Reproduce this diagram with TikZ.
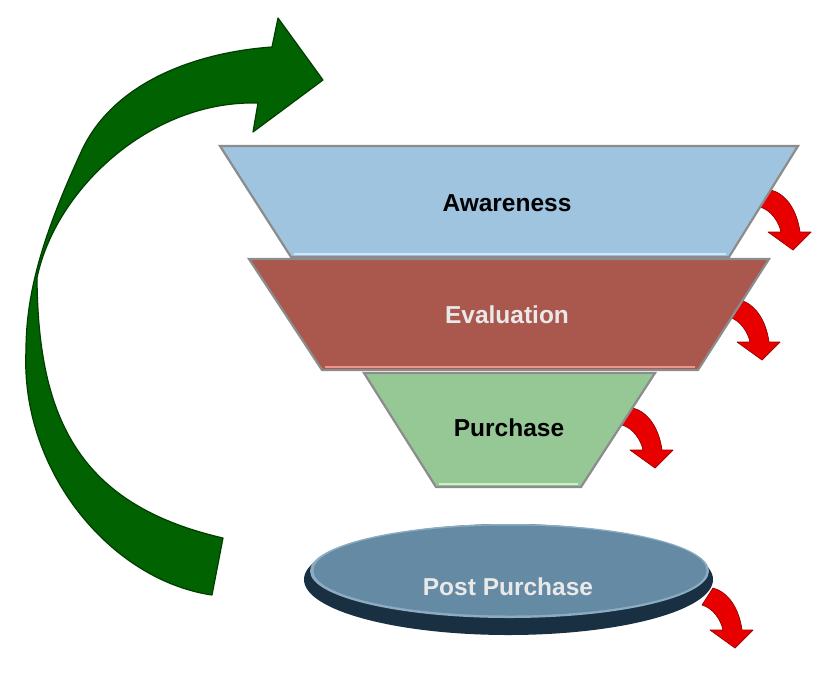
\documentclass[tikz,border=0pt]{standalone}
\usepackage{fontspec}
\setmainfont{Liberation Sans}
\definecolor{awblue}{RGB}{159,196,223}
\definecolor{awlight}{RGB}{205,232,248}
\definecolor{evred}{RGB}{170,87,78}
\definecolor{evlight}{RGB}{236,150,140}
\definecolor{pugreen}{RGB}{150,200,150}
\definecolor{pulight}{RGB}{205,238,205}
\definecolor{framegray}{RGB}{140,140,140}
\definecolor{ellfill}{RGB}{101,138,163}
\definecolor{ellrim}{RGB}{24,48,66}
\definecolor{ellhi}{RGB}{140,172,194}
\definecolor{arrgreen}{RGB}{0,98,0}
\definecolor{arrgreendark}{RGB}{0,62,0}
\definecolor{arrred}{RGB}{232,0,0}
\definecolor{arrreddark}{RGB}{150,0,0}
\definecolor{lighttext}{RGB}{233,233,233}
\tikzset{
  stagelabel/.style={font=\fontsize{24.5}{29}\selectfont\bfseries, inner sep=0pt},
  stageframe/.style={draw=framegray, line width=2.2, line join=miter},
  redarrow/.pic={
    \path[fill=arrred, draw=arrreddark, line width=0.7, line join=round]
      (0,0) .. controls (15,4) and (26,20) .. (29,42) -- (40,42) -- (22,60) -- (-3,42) -- (10,42)
      .. controls (8,32) and (0,20) .. (-11,17) -- cycle;
  }
}
\begin{document}
\begin{tikzpicture}[x=1pt,y=-1pt]
\useasboundingbox (0,0) rectangle (840,673);
\fill[white] (0,0) rectangle (840,673);

% green return arrow
\path[fill=arrgreen, draw=arrgreendark, line width=1.2, line join=round]
  (223,538) -- (212,595)
  .. controls (110,580) and (20,470) .. (26,350)
  .. controls (26,290) and (45,230) .. (82,150)
  .. controls (115,80) and (200,52) .. (272,47)
  -- (278,18) -- (323,80) -- (253,132) -- (258,103)
  .. controls (150,100) and (55,190) .. (37,278)
  .. controls (38,420) and (80,505) .. (223,538)
  -- cycle;

% red side arrows (drawn beneath the stages)
\pic at (771,190) {redarrow};
\pic at (740,300) {redarrow};
\pic at (633,408) {redarrow};
\pic at (713,588) {redarrow};

% Purchase stage
\path[stageframe, fill=pugreen] (364,373) -- (655,373) -- (581,487) -- (436,487) -- cycle;
\draw[pulight, line width=2] (439,484.3) -- (578,484.3);
% Evaluation stage
\path[stageframe, fill=evred] (249,259) -- (769,259) -- (698,370) -- (322,370) -- cycle;
\draw[evlight, line width=2] (325,367.3) -- (695,367.3);
% Awareness stage
\path[stageframe, fill=awblue] (220,146) -- (798,146) -- (729,257) -- (291,257) -- cycle;
\draw[awlight, line width=2] (294,254.3) -- (726,254.3);

% Post purchase disc
\fill[ellrim] (508.5,579.5) ellipse [x radius=204.5, y radius=55.5];
\fill[ellhi] (509.5,571) ellipse [x radius=199.5, y radius=47];
\fill[ellfill] (510,570.5) ellipse [x radius=196.5, y radius=45];

% labels
\node[stagelabel, text=black] (aw) at (507,203) {Awareness};
\node[stagelabel, text=lighttext] (ev) at (507,315) {Evaluation};
\node[stagelabel, text=black] (pu) at (509,428) {Purchase};
\node[stagelabel, text=lighttext] (pp) at (508,587) {Post Purchase};
\end{tikzpicture}
\end{document}
